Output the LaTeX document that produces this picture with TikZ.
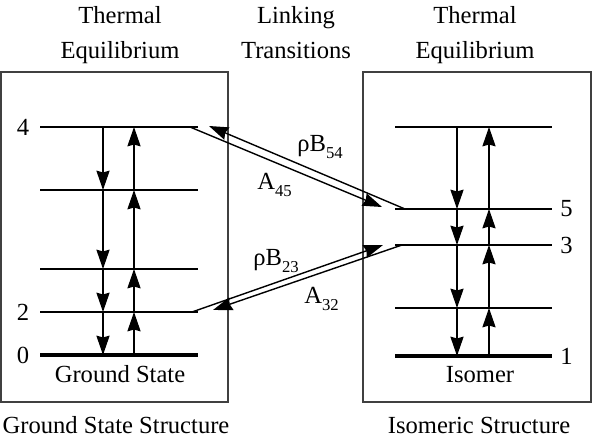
\documentclass[tikz,border=0pt]{standalone}
\usepackage{fontspec}
\setmainfont{Liberation Serif}
\usetikzlibrary{positioning,arrows.meta}
\newcommand\lowidx[1]{\raisebox{-0.6ex}{\fontsize{9.5}{10}\selectfont#1}}
\newcommand\levelline[5]{% name, x left, x right, y, width
\draw[line width=#5] (#2,#4) coordinate (#1-l) -- (#3,#4) coordinate (#1-r);
}

\begin{document}
\begin{tikzpicture}[x=0.02cm,y=-0.02cm,
  every node/.style={font=\fontsize{14}{19.4}\selectfont, inner sep=0pt},
  box/.style={draw=black!75, line width=0.8pt},
  tip/.style={-{Stealth[length=11pt,width=7.5pt,inset=1pt]}, line width=0.8pt}]
	%% some definitions
	\def\thin{1.1pt} % level line
	\def\thick{2.4pt} % ground line
	\useasboundingbox (0,0) rectangle (592,442);

	% the two boxes
	\draw[box] (1,72) rectangle (228,402);
	\draw[box] (363,72) rectangle (591,402);

	% ground state levels
	\levelline{g4}{40}{198}{127}{\thin}
	\levelline{gA}{40}{198}{190}{\thin}
	\levelline{gB}{40}{198}{269}{\thin}
	\levelline{g2}{40}{198}{312}{\thin}
	\levelline{g0}{40}{198}{355}{\thick}

	% isomer levels
	\levelline{iA}{395}{552}{127}{\thin}
	\levelline{i5}{395}{552}{209}{\thin}
	\levelline{i3}{395}{552}{245}{\thin}
	\levelline{iB}{395}{552}{308}{\thin}
	\levelline{i1}{395}{552}{356}{\thick}

	% columns of the thermal arrows
	\coordinate (gdn) at (103,0);
	\coordinate (gup) at (134,0);
	\coordinate (idn) at (457,0);
	\coordinate (iup) at (489,0);

	\foreach \hi/\lo in {g4/gA,gA/gB,gB/g2,g2/g0}{
		\draw[tip] (gdn |- \hi-l) -- (gdn |- \lo-l);
		\draw[tip] (gup |- \lo-l) -- (gup |- \hi-l);
	}
	\foreach \hi/\lo in {iA/i5,i5/i3,i3/iB,iB/i1}{
		\draw[tip] (idn |- \hi-l) -- (idn |- \lo-l);
		\draw[tip] (iup |- \lo-l) -- (iup |- \hi-l);
	}

	% linking transitions
	\coordinate (a45s) at (190,127);
	\coordinate (a45e) at (382,207);
	\coordinate (b54s) at (405,209);
	\coordinate (b54e) at (209,126);
	\coordinate (b23s) at (192,312);
	\coordinate (b23e) at (383,245);
	\coordinate (a32s) at (402,245);
	\coordinate (a32e) at (213,310);
	\draw[tip] (a45s) -- (a45e);
	\draw[tip] (b54s) -- (b54e);
	\draw[tip] (b23s) -- (b23e);
	\draw[tip] (a32s) -- (a32e);

	\node[anchor=base west] (lb54) at (297,152) {ρB\lowidx{54}};
	\node[anchor=base west] (la45) at (257,190) {A\lowidx{45}};
	\node[anchor=base west] (lb23) at (253,266) {ρB\lowidx{23}};
	\node[anchor=base west] (la32) at (304,304) {A\lowidx{32}};

	% level numbers
	\node[left=6pt of g4-l] (n4) {4};
	\node[left=6pt of g2-l] (n2) {2};
	\node[left=6pt of g0-l] (n0) {0};
	\node[right=4.5pt of i5-r] (n5) {5};
	\node[right=4.5pt of i3-r] (n3) {3};
	\node[right=4.5pt of i1-r] (n1) {1};

	% names
	\node[anchor=base] (gs) at (120,382) {Ground State};
	\node[anchor=base] (iso) at (480,382) {Isomer};
	\node[anchor=base] (gss) at (116,434) {Ground State Structure};
	\node[anchor=base] (iss) at (479,434) {Isomeric Structure};

	% headings
	\node[align=center, anchor=north] (te1) at (120,6.5) {Thermal\\Equilibrium};
	\node[align=center, anchor=north] (lt) at (296,6.5) {Linking\\Transitions};
	\node[align=center, anchor=north] (te2) at (475,6.5) {Thermal\\Equilibrium};
\end{tikzpicture}
\end{document}
